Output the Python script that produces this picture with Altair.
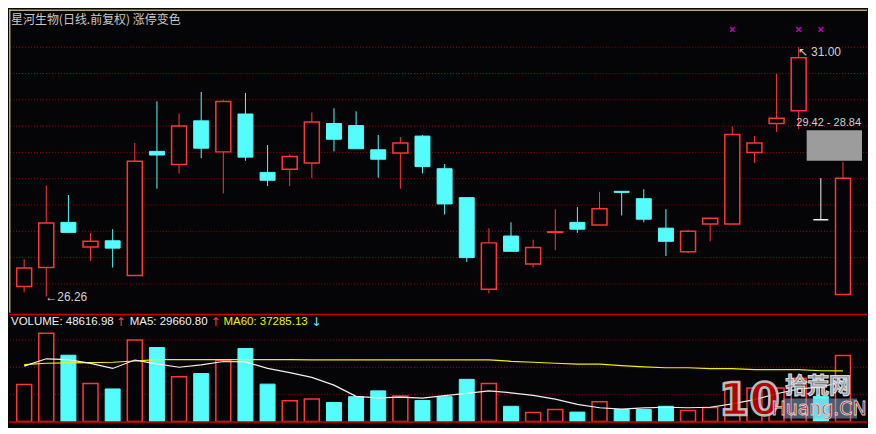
import altair as alt
import pandas as pd

# ---------------- data ----------------
title_text = "星河生物(日线.前复权) 涨停变色"

opens = [26.45, 26.81, 27.67, 27.20, 27.32, 26.66, 29.02, 28.77, 29.60, 29.01,
         29.73, 28.62, 28.68, 28.80, 29.55, 29.51, 29.05, 28.99, 29.31, 28.69,
         28.14, 26.40, 27.41, 26.88, 27.48, 27.67, 27.62, 28.26, 28.12, 27.56,
         27.11, 27.64, 27.64, 29.00, 29.55, 29.79, 27.72, 26.30]
closes = [26.80, 27.66, 27.48, 27.31, 27.18, 28.83, 28.95, 29.50, 29.08, 29.97,
          28.91, 28.47, 28.92, 29.58, 29.25, 29.07, 28.87, 29.18, 28.73, 28.02,
          27.00, 27.28, 27.12, 27.19, 27.49, 27.54, 27.93, 28.24, 27.73, 27.31,
          27.50, 27.75, 29.34, 29.18, 29.65, 30.80, 27.72, 28.51]
highs = [26.97, 28.37, 28.19, 27.47, 27.54, 29.18, 29.97, 29.74, 30.15, 30.00,
         30.13, 29.14, 28.96, 29.76, 29.84, 29.78, 29.33, 29.29, 29.33, 28.78,
         28.14, 27.56, 27.67, 27.34, 27.92, 27.96, 28.25, 28.26, 28.30, 27.92,
         27.53, 27.75, 29.49, 29.31, 30.49, 31.00, 28.51, 28.82]
lows = [26.34, 26.26, 27.48, 26.94, 26.81, 26.66, 28.31, 28.60, 28.89, 28.22,
        28.84, 28.36, 28.36, 28.51, 29.02, 29.07, 28.52, 28.31, 28.60, 27.82,
        26.92, 26.32, 27.12, 26.81, 27.14, 27.47, 27.62, 27.80, 27.67, 27.03,
        27.08, 27.31, 27.64, 28.80, 29.39, 29.44, 27.72, 26.30]
volumes = [27300, 65000, 48850, 28000, 23960, 60000, 54530, 33000, 35340, 45080,
           53820, 27520, 15220, 16640, 14010, 18270, 22540, 18770, 15430, 18270,
           31070, 28010, 11160, 6680, 8820, 6900, 14500, 8820, 8820, 11160,
           8100, 10240, 28900, 24700, 24700, 31800, 18500, 48616.98]
ma5_values = [40810, 46215, 45650, 42800, 39100, 45290, 42450, 39960, 41740, 44220,
              43870, 39100, 36050, 32490, 26800, 18490, 17350, 17920, 17210, 18980,
              20760, 22540, 21120, 19200, 16500, 12580, 10100, 9030, 9950, 10450,
              10100, 10450, 13000, 16140, 20400, 23960, 25380, 29660.80]
ma60_values = [41950, 42940, 43160, 43370, 43660, 44580, 45600, 45600, 45600, 45600,
               45600, 45600, 45600, 45450, 45450, 45450, 45450, 45450, 45450, 45450,
               45450, 45450, 44370, 43660, 42940, 42230, 42230, 41240, 40310, 39600,
               39600, 38890, 38890, 38180, 38180, 38180, 37400, 37285.13]

limit_up_days = [33, 36, 37]
grid_prices = [26.5, 27.0, 27.5, 28.0, 28.5, 29.0, 29.5, 30.0, 30.5, 31.0]
vol_grid = [20000, 40000, 60000]
gap_high, gap_low = 29.42, 28.84
watermark = ["10", "拾荒网", "Huang.CN"]

# ---------------- styling ----------------
BG = "#050407"
RED = "#ff3636"
CYAN = "#54fcfc"
WHITE = "#f0f0f0"
YELLOW = "#f0f000"
GRID = "#a00000"
SEP = "#c80000"
MAG = "#ff00ff"
LBL = "#d0d0d0"
FONT_NUM = "Liberation Sans"
FONT_CJK = "Noto Sans CJK SC"

W, H1, H2 = 860, 304, 114

n = len(opens)
df = pd.DataFrame({
    "idx": list(range(1, n + 1)),
    "open": opens, "high": highs, "low": lows, "close": closes,
    "vol": volumes, "ma5": ma5_values, "ma60": ma60_values,
})
df["dir"] = ["up" if c > o else ("down" if c < o else "flat") for o, c in zip(opens, closes)]
one = pd.DataFrame({"k": [0]})  # single row for decorations / labels

xs = alt.Scale(domain=[0.5407, 38.861], nice=False, zero=False)
ys = alt.Scale(domain=[25.951, 31.717], nice=False, zero=False)
vs = alt.Scale(domain=[-4479, 79419], nice=False, zero=False)
X = alt.X("idx:Q", scale=xs, axis=None)
dir_color = alt.Color("dir:N", scale=alt.Scale(domain=["up", "down", "flat"],
                                              range=[RED, CYAN, WHITE]), legend=None)
base = alt.Chart(df)

# ---------------- price panel ----------------
grid_top = alt.Chart(pd.DataFrame({"p": grid_prices})).mark_rule(
    color=GRID, strokeDash=[1, 2], strokeWidth=1
).encode(y=alt.Y("p:Q", scale=ys, axis=None))

top_border = alt.Chart(one).mark_rule(color="#b8a878", strokeWidth=1.5).encode(
    x=alt.value(0), x2=alt.value(W), y=alt.value(0.75))
left_border = alt.Chart(one).mark_rule(color="#b8a878", strokeWidth=1.5).encode(
    x=alt.value(0.75), y=alt.value(0), y2=alt.value(H1))

wicks = base.mark_rule(strokeWidth=1).encode(
    X, y=alt.Y("high:Q", scale=ys, axis=None), y2="low:Q", color=dir_color)

body_up = base.transform_filter("datum.close > datum.open").mark_bar(
    size=15, fill=BG, stroke=RED, strokeWidth=1.5
).encode(X, y=alt.Y("open:Q", scale=ys, axis=None), y2="close:Q")
body_dn = base.transform_filter("datum.close < datum.open").mark_bar(
    size=15, fill=CYAN, stroke=CYAN, strokeWidth=1
).encode(X, y=alt.Y("open:Q", scale=ys, axis=None), y2="close:Q")
body_flat = base.transform_filter("datum.close == datum.open").mark_bar(
    size=15, fill=WHITE, stroke=WHITE, strokeWidth=1.5
).encode(X, y=alt.Y("open:Q", scale=ys, axis=None), y2="close:Q")

gap_df = pd.DataFrame({"x0": [36.36], "x1": [38.861], "hi": [gap_high], "lo": [gap_low],
                       "label": [f"{gap_high:.2f} - {gap_low:.2f}"]})
gap_rect = alt.Chart(gap_df).mark_rect(color="#9c9c9c").encode(
    x=alt.X("x0:Q", scale=xs, axis=None), x2="x1",
    y=alt.Y("hi:Q", scale=ys, axis=None), y2="lo")
gap_text = alt.Chart(gap_df).mark_text(
    align="right", baseline="bottom", dx=-1, dy=-2, font=FONT_NUM, fontSize=11,
    color=LBL
).encode(x=alt.X("x1:Q", scale=xs, axis=None), y=alt.Y("hi:Q", scale=ys, axis=None),
         text="label:N")

lo_i = lows.index(min(lows))
hi_i = highs.index(max(highs))
ann_df = pd.DataFrame({
    "idx": [lo_i + 1, hi_i + 1],
    "p": [lows[lo_i], highs[hi_i]],
    "label": [f"←{lows[lo_i]:.2f}", f"↖ {highs[hi_i]:.2f}"],
})
ann_lo = alt.Chart(ann_df.iloc[[0]]).mark_text(
    align="left", baseline="middle", font=FONT_NUM, fontSize=12, color=LBL, dx=-1
).encode(X, y=alt.Y("p:Q", scale=ys, axis=None), text="label:N")
ann_hi = alt.Chart(ann_df.iloc[[1]]).mark_text(
    align="left", baseline="middle", font=FONT_NUM, fontSize=12, color=LBL, dx=-1, dy=5
).encode(X, y=alt.Y("p:Q", scale=ys, axis=None), text="label:N")

lim_marks = alt.Chart(pd.DataFrame({"idx": limit_up_days})).mark_point(
    shape="M-1,-1L1,1M1,-1L-1,1", size=22, filled=False, stroke=MAG, strokeWidth=1.5
).encode(X, y=alt.value(20))

title = alt.Chart(one).mark_text(
    align="left", baseline="middle", font=FONT_CJK, fontSize=12, color="#c8c8c8"
).encode(x=alt.value(2), y=alt.value(11), text=alt.value(title_text))

top = alt.layer(
    grid_top, top_border, left_border, wicks, body_up, body_dn, body_flat,
    gap_rect, gap_text, ann_lo, ann_hi, lim_marks, title
).properties(width=W, height=H1)

# ---------------- volume panel ----------------
grid_vol = alt.Chart(pd.DataFrame({"v": vol_grid})).mark_rule(
    color=GRID, strokeDash=[1, 2], strokeWidth=1
).encode(y=alt.Y("v:Q", scale=vs, axis=None))
sep_top = alt.Chart(one).mark_rule(color=SEP, strokeWidth=1.5).encode(
    x=alt.value(0), x2=alt.value(W), y=alt.value(0.75))
sep_bot = alt.Chart(one).mark_rule(color=SEP, strokeWidth=1.5).encode(
    x=alt.value(0), x2=alt.value(W), y=alt.Y(datum=-450, scale=vs, axis=None))

vbar_up = base.transform_filter("datum.close > datum.open").mark_bar(
    size=15, fill=BG, stroke=RED, strokeWidth=1.5
).encode(X, y=alt.Y("vol:Q", scale=vs, axis=None), y2=alt.datum(0))
vbar_dn = base.transform_filter("datum.close <= datum.open").mark_bar(
    size=15, fill=CYAN, stroke=CYAN, strokeWidth=1
).encode(X, y=alt.Y("vol:Q", scale=vs, axis=None), y2=alt.datum(0))

ma60_line = base.mark_line(color=YELLOW, strokeWidth=1.2).encode(
    X, y=alt.Y("ma60:Q", scale=vs, axis=None))
ma5_line = base.mark_line(color=WHITE, strokeWidth=1.2).encode(
    X, y=alt.Y("ma5:Q", scale=vs, axis=None))

def label(txt, x, color, size=11.5, font=FONT_NUM):
    return alt.Chart(one).mark_text(
        align="left", baseline="middle", font=font, fontSize=size, color=color
    ).encode(x=alt.value(x), y=alt.value(8), text=alt.value(txt))

vol_labels = [
    label(f"VOLUME: {volumes[-1]:.2f}", 2, WHITE),
    label("↑", 107, RED, 12, "DejaVu Sans"),
    label(f"MA5: {ma5_values[-1]:.2f}", 121, WHITE),
    label("↑", 202, RED, 12, "DejaVu Sans"),
    label(f"MA60: {ma60_values[-1]:.2f}", 215, YELLOW),
    label("↓", 303, CYAN, 12, "DejaVu Sans"),
]

def wm(txt, x, y, size, fill, stroke, sw, weight="bold", font="DejaVu Sans", align="center"):
    return alt.Chart(one).mark_text(
        align=align, baseline="middle", font=font, fontSize=size, fontWeight=weight,
        fill=fill, stroke=stroke, strokeWidth=sw, opacity=0.92
    ).encode(x=alt.value(x), y=alt.value(y), text=alt.value(txt))

wm_bg = alt.Chart(one).mark_rect(color="#8fb4d8", opacity=0.5).encode(
    x=alt.value(776), x2=alt.value(850), y=alt.value(85), y2=alt.value(105))
wm_layers = [
    wm_bg,
    wm(watermark[0], 742, 88, 44, "#c00000", "#c8c8c8", 2.5),
    wm(watermark[1], 811, 72, 22, "#9a9a9a", "#e8e8e8", 1.2, "bold", FONT_CJK),
    wm(watermark[2], 812, 95, 19, "#c00000", "#e0e0e0", 0.8, "normal"),
]

vol = alt.layer(
    grid_vol, vbar_up, vbar_dn, ma60_line, ma5_line, sep_top, sep_bot,
    *vol_labels, *wm_layers
).properties(width=W, height=H2)

chart = alt.vconcat(top, vol, spacing=0).configure(
    background=BG, padding=0
).configure_view(strokeWidth=0)

chart.save("out.html", embed_options={"renderer": "svg", "actions": False})
